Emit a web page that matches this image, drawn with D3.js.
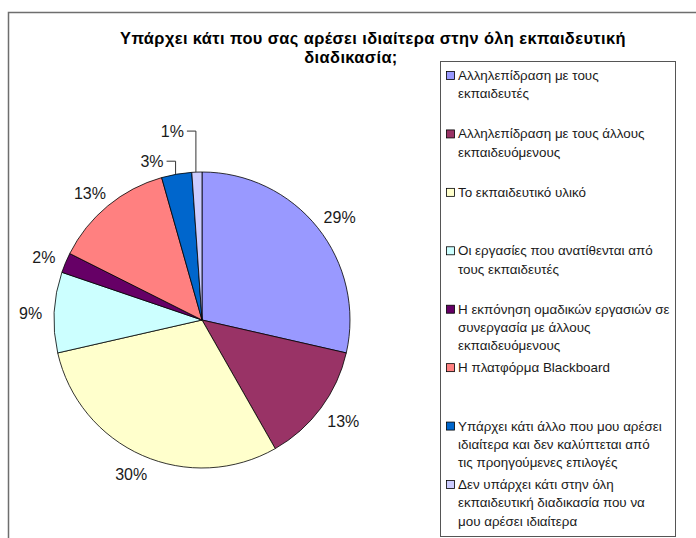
<!DOCTYPE html>
<html>
<head>
<meta charset="utf-8">
<script src="https://cdn.jsdelivr.net/npm/d3@7"></script>
<style>
body { margin: 0; background: #fff; }
svg { display: block; font-family: "Liberation Sans", Arial, sans-serif; }
</style>
</head>
<body>
<div id="chart"></div>
<script>
var titleLines = ["Υπάρχει κάτι που σας αρέσει ιδιαίτερα στην όλη εκπαιδευτική", "διαδικασία;"];

var legendLines = [
    ["Αλληλεπίδραση με τους", "εκπαιδευτές"],
    ["Αλληλεπίδραση με τους άλλους", "εκπαιδευόμενους"],
    ["Το εκπαιδευτικό υλικό"],
    ["Οι εργασίες που ανατίθενται από", "τους εκπαιδευτές"],
    ["Η εκπόνηση ομαδικών εργασιών σε", "συνεργασία με άλλους", "εκπαιδευόμενους"],
    ["Η πλατφόρμα Blackboard"],
    ["Υπάρχει κάτι άλλο που μου αρέσει", "ιδιαίτερα και δεν καλύπτεται από", "τις προηγούμενες επιλογές"],
    ["Δεν υπάρχει κάτι στην όλη", "εκπαιδευτική διαδικασία που να", "μου αρέσει ιδιαίτερα"]
];

// answers per option
var counts = [26, 12, 27, 8, 2, 12, 3, 1];

var colors = ["#9999ff", "#993366", "#ffffcc", "#ccffff", "#660066", "#ff8080", "#0066cc", "#ccccff"];

function init() {
    var w = 696;
    var h = 538;
    var cx = 202, cy = 320, r = 148;
    var total = d3.sum(counts);

    var svg = d3.select("#chart")
                .append("svg")
                .attr("width", w)
                .attr("height", h);

    // chart area border (runs past the right and bottom edges)
    svg.append("rect")
        .attr("x", 8.5)
        .attr("y", 12.5)
        .attr("width", 800)
        .attr("height", 600)
        .attr("fill", "#fff")
        .attr("stroke", "#6e6e6e")
        .attr("stroke-width", 1.5);

    // title, each wrapped line placed where Excel put it
    var titleX = [373, 351];
    svg.selectAll("text.title")
        .data(titleLines)
        .enter()
        .append("text")
        .attr("class", "title")
        .attr("x", function(d, i) { return titleX[i]; })
        .attr("y", function(d, i) { return 44 + i * 19; })
        .attr("text-anchor", "middle")
        .attr("font-size", 16.4)
        .attr("letter-spacing", 0.4)
        .attr("font-weight", "bold")
        .attr("fill", "#000")
        .text(function(d) { return d; });

    var pie = d3.pie().sort(null).value(function(d) { return d; });
    var arc = d3.arc().innerRadius(0).outerRadius(r);
    var arcs = pie(counts);

    var g = svg.append("g").attr("transform", "translate(" + cx + "," + cy + ")");

    g.selectAll("path")
        .data(arcs)
        .enter()
        .append("path")
        .attr("d", arc)
        .attr("fill", function(d, i) { return colors[i]; })
        .attr("stroke", "#000")
        .attr("stroke-width", 0.8);

    // small slices get their label lifted up with a leader line
    var leaderRise = {6: 13, 7: 41};

    arcs.forEach(function(d, i) {
        var a = (d.startAngle + d.endAngle) / 2;
        var txt = Math.round(d.value / total * 100) + "%";
        var t = g.append("text")
            .attr("font-size", 16)
            .attr("fill", "#1a1a1a")
            .attr("dominant-baseline", "central")
            .text(txt);
        if (leaderRise[i] !== undefined) {
            var ex = r * Math.sin(a), ey = -r * Math.cos(a);
            var ly = ey - leaderRise[i];
            g.append("polyline")
                .attr("points", [[ex - 1, ey], [ex - 1, ly], [ex - 10, ly]].join(" "))
                .attr("fill", "none")
                .attr("stroke", "#333")
                .attr("stroke-width", 1);
            t.attr("x", ex - 13).attr("y", ly).attr("text-anchor", "end");
        } else {
            var tw = t.node().getComputedTextLength();
            var rr = r + 12;
            var x = rr * Math.sin(a) + tw / 2 * Math.sin(a);
            var y = -rr * Math.cos(a) - 7 * Math.cos(a) + 2;
            t.attr("x", x).attr("y", y).attr("text-anchor", "middle");
        }
    });

    // legend
    var lx = 440, ly0 = 61, lw = 235, lh = 475;
    svg.append("rect")
        .attr("x", lx + 0.5)
        .attr("y", ly0 + 0.5)
        .attr("width", lw)
        .attr("height", lh)
        .attr("fill", "#fff")
        .attr("stroke", "#555")
        .attr("stroke-width", 1);

    var rowY = d3.scalePoint()
        .domain(d3.range(legendLines.length))
        .range([75, 484]);

    var items = svg.selectAll("g.item")
        .data(legendLines)
        .enter()
        .append("g")
        .attr("class", "item")
        .attr("transform", function(d, i) { return "translate(" + lx + "," + rowY(i) + ")"; });

    items.append("rect")
        .attr("x", 6.5)
        .attr("y", -3.5)
        .attr("width", 8)
        .attr("height", 8)
        .attr("fill", function(d, i) { return colors[i]; })
        .attr("stroke", "#000")
        .attr("stroke-width", 0.8);

    items.each(function(lines) {
        d3.select(this).selectAll("text")
            .data(lines)
            .enter()
            .append("text")
            .attr("x", 18)
            .attr("y", function(d, j) { return j * 18.3 + 0.5; })
            .attr("dominant-baseline", "central")
            .attr("font-size", 13.4)
            .attr("fill", "#1a1a1a")
            .text(function(d) { return d; });
    });
}

window.onload = init;
</script>
</body>
</html>
